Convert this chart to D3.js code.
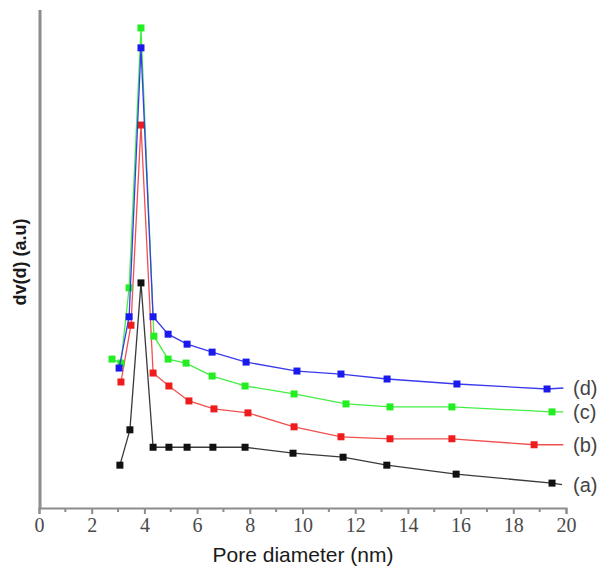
<!DOCTYPE html>
<html>
<head>
<meta charset="utf-8">
<script src="https://cdn.jsdelivr.net/npm/d3@7/dist/d3.min.js"></script>
<style>
  html, body { margin: 0; padding: 0; background: #fff; }
  svg { display: block; }
</style>
</head>
<body>
<div id="chart"></div>
<script>
// Pore size distribution curves (arbitrary units), samples (a)–(d).
// The last point of each series closes the curve at the axis end and carries no symbol.
const xA = [3.07, 3.45, 3.87, 4.33, 4.93, 5.62, 6.60, 7.82, 9.64, 11.54, 13.20, 15.83, 19.47, 19.85];
const yA = [8.6, 15.7, 45.2, 12.2, 12.2, 12.2, 12.2, 12.2, 11.0, 10.2, 8.6, 6.8, 5.0, 4.7];

const xB = [3.11, 3.49, 3.87, 4.33, 4.93, 5.69, 6.64, 7.93, 9.68, 11.46, 13.32, 15.67, 18.79, 19.90];
const yB = [25.3, 36.7, 76.9, 27.1, 24.5, 21.5, 19.9, 19.1, 16.3, 14.3, 13.9, 13.9, 12.7, 12.7];

const xC = [2.77, 3.11, 3.42, 3.87, 4.36, 4.90, 5.58, 6.57, 7.82, 9.68, 11.65, 13.32, 15.67, 19.47, 19.90];
const yC = [29.9, 29.1, 44.2, 96.4, 34.5, 29.9, 29.1, 26.5, 24.5, 22.9, 20.9, 20.3, 20.3, 19.3, 19.3];

const xD = [3.04, 3.42, 3.87, 4.33, 4.90, 5.62, 6.57, 7.86, 9.79, 11.46, 13.21, 15.86, 19.28, 19.90];
const yD = [28.1, 38.4, 92.4, 38.4, 34.9, 32.9, 31.3, 29.3, 27.5, 26.9, 25.9, 24.9, 23.9, 24.1];

const seriesNames = ["(a)", "(b)", "(c)", "(d)"];
const seriesColors = ["#111111", "#ee1c1c", "#22ee22", "#1a1aee"];
const lineColors = ["#3a3a3a", "#f05050", "#44ee44", "#3a3aee"];

const xTicksMajor = [0, 2, 4, 6, 8, 10, 12, 14, 16, 18, 20];
const xTicksMinor = [1, 3, 5, 7, 9, 11, 13, 15, 17, 19];

const xLabel = "Pore diameter (nm)";
const yLabel = "dv(d) (a.u)";

const W = 610, H = 570;
const svg = d3.select("#chart").append("svg").attr("width", W).attr("height", H);

const x = d3.scaleLinear().domain([0, 20]).range([39, 566]);
const y = d3.scaleLinear().domain([0, 100]).range([508, 10]);

// axes
const axisColor = "#8c8c8c";
svg.append("line")
  .attr("x1", 40).attr("x2", 40).attr("y1", y(100)).attr("y2", y(0) + 1)
  .attr("stroke", axisColor).attr("stroke-width", 3);

const gx = svg.append("g").attr("transform", `translate(0,${y(0)})`);
gx.call(d3.axisBottom(x).tickValues(xTicksMajor).tickSize(6).tickPadding(4).tickFormat(d3.format("d")));
gx.select(".domain").attr("stroke", axisColor).attr("stroke-width", 2);
gx.selectAll(".tick line").attr("stroke", axisColor).attr("stroke-width", 2);
gx.selectAll(".tick text")
  .attr("fill", "#4a4a4a")
  .style("font-family", "'Liberation Serif', 'Times New Roman', serif")
  .style("font-size", "20px");

gx.selectAll(".minor").data(xTicksMinor).enter().append("line")
  .attr("class", "minor")
  .attr("x1", d => x(d)).attr("x2", d => x(d))
  .attr("y1", 0).attr("y2", 4)
  .attr("stroke", axisColor).attr("stroke-width", 2);

// axis titles
svg.append("text")
  .attr("x", 303).attr("y", 562)
  .attr("text-anchor", "middle")
  .attr("fill", "#1a1a1a")
  .style("font-family", "'Liberation Sans', Arial, sans-serif")
  .style("font-size", "21px")
  .text(xLabel);

svg.append("text")
  .attr("transform", "translate(26,262) rotate(-90)")
  .attr("text-anchor", "middle")
  .attr("fill", "#1a1a1a")
  .style("font-family", "'Liberation Sans', Arial, sans-serif")
  .style("font-size", "18px")
  .style("font-weight", "bold")
  .text(yLabel);

// curves
const allX = [xA, xB, xC, xD];
const allY = [yA, yB, yC, yD];
const line = d3.line().x(d => x(d[0])).y(d => y(d[1]));

allX.forEach((xs, i) => {
  const pts = xs.map((v, j) => [v, allY[i][j]]);
  const g = svg.append("g");
  g.append("path")
    .attr("d", line(pts))
    .attr("fill", "none")
    .attr("stroke", lineColors[i])
    .attr("stroke-width", 1.3);
  const sym = pts.slice(0, pts.length - 1);
  g.selectAll("rect").data(sym).enter().append("rect")
    .attr("x", d => x(d[0]) - 3.5)
    .attr("y", d => y(d[1]) - 3.5)
    .attr("width", 7).attr("height", 7)
    .attr("fill", seriesColors[i]);

  const last = pts[pts.length - 1];
  svg.append("text")
    .attr("x", 573)
    .attr("y", y(last[1]) + 7)
    .attr("fill", "#444")
    .style("font-family", "'Liberation Sans', Arial, sans-serif")
    .style("font-size", "20px")
    .text(seriesNames[i]);
});
</script>
</body>
</html>
